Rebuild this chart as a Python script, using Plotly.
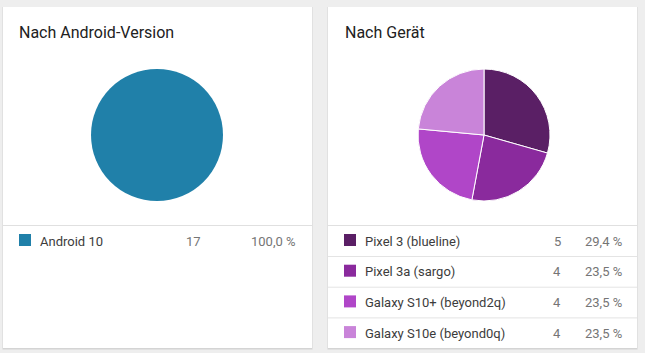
import plotly.graph_objects as go

W, H = 645, 353

# Data
android_labels = ["Android 10"]
android_values = [17]
android_colors = ["#2080a9"]

device_labels = ["Pixel 3 (blueline)", "Pixel 3a (sargo)", "Galaxy S10+ (beyond2q)", "Galaxy S10e (beyond0q)"]
device_values = [5, 4, 4, 4]
device_colors = ["#5a1f65", "#8a2a9d", "#b046c8", "#c984d9"]

titles = ["Nach Android-Version", "Nach Gerät"]


def pct_text(v, total):
    return f"{v / total * 100:.1f}".replace(".", ",") + " %"


fig = go.Figure()

shapes = []
annotations = []

PAD = 2.5  # compensate annotation inner padding

cards = [
    dict(x0=3, x1=312, y0=7, y1=348, pie_cx=157, pie_cy=135, r=66,
         labels=android_labels, values=android_values, colors=android_colors,
         title=titles[0], tx=19, sq=19, cnt_x=193, pct_x=295),
    dict(x0=328, x1=637, y0=7, y1=348, pie_cx=484, pie_cy=135, r=66,
         labels=device_labels, values=device_values, colors=device_colors,
         title=titles[1], tx=345, sq=344, cnt_x=557, pct_x=621),
]

for c in cards:
    # shadow
    shapes.append(dict(type="rect", xref="x", yref="y", x0=c["x0"] - 0.5, x1=c["x1"] + 0.5,
                       y0=c["y0"], y1=c["y1"] + 1.5, fillcolor="#d4d4d4", line=dict(width=0), layer="below"))
    shapes.append(dict(type="rect", xref="x", yref="y", x0=c["x0"], x1=c["x1"],
                       y0=c["y0"], y1=c["y1"], fillcolor="#ffffff", line=dict(width=0), layer="below"))
    annotations.append(dict(x=c["tx"] - PAD, y=32, xref="x", yref="y", text=c["title"], showarrow=False,
                            xanchor="left", yanchor="middle",
                            font=dict(family="Roboto", size=16, color="#212121")))
    total = sum(c["values"])
    # top divider
    shapes.append(dict(type="line", xref="x", yref="y", x0=c["x0"], x1=c["x1"], y0=225.5, y1=225.5,
                       line=dict(color="#e0e0e0", width=1)))
    for i, (lab, val, col) in enumerate(zip(c["labels"], c["values"], c["colors"])):
        yc = 241 + i * 30.7
        sq_x0 = c["sq"]
        shapes.append(dict(type="rect", xref="x", yref="y", x0=sq_x0, x1=sq_x0 + 12,
                           y0=yc - 7, y1=yc + 5, fillcolor=col, line=dict(width=0)))
        annotations.append(dict(x=sq_x0 + 21 - PAD, y=yc, xref="x", yref="y", text=lab, showarrow=False,
                                xanchor="left", yanchor="middle",
                                font=dict(family="Roboto", size=13, color="#3c3c3c")))
        annotations.append(dict(x=c["cnt_x"], y=yc, xref="x", yref="y", text=str(val), showarrow=False,
                                xanchor="center", yanchor="middle",
                                font=dict(family="Roboto", size=13, color="#757575")))
        annotations.append(dict(x=c["pct_x"] + PAD, y=yc, xref="x", yref="y", text=pct_text(val, total),
                                showarrow=False, xanchor="right", yanchor="middle",
                                font=dict(family="Roboto", size=13, color="#757575")))
        if len(c["labels"]) > 1 and i < len(c["labels"]) - 1:
            ly = yc + 15.5
            shapes.append(dict(type="line", xref="x", yref="y", x0=c["x0"], x1=c["x1"], y0=ly, y1=ly,
                               line=dict(color="#e4e4e4", width=1)))

    fig.add_trace(go.Pie(
        labels=c["labels"], values=c["values"], sort=False, direction="clockwise", rotation=0,
        marker=dict(colors=c["colors"], line=dict(color="#ffffff", width=1 if len(c["values"]) > 1 else 0)),
        textinfo="none", hoverinfo="label+value+percent", showlegend=False,
        domain=dict(x=[(c["pie_cx"] - c["r"]) / W, (c["pie_cx"] + c["r"]) / W],
                    y=[1 - (c["pie_cy"] + c["r"]) / H, 1 - (c["pie_cy"] - c["r"]) / H]),
    ))

fig.update_layout(
    width=W, height=H, margin=dict(l=0, r=0, t=0, b=0),
    paper_bgcolor="#eeeeee", plot_bgcolor="rgba(0,0,0,0)",
    xaxis=dict(range=[0, W], visible=False, fixedrange=True),
    yaxis=dict(range=[H, 0], visible=False, fixedrange=True),
    shapes=shapes, annotations=annotations,
)

fig.write_html("out.html")
